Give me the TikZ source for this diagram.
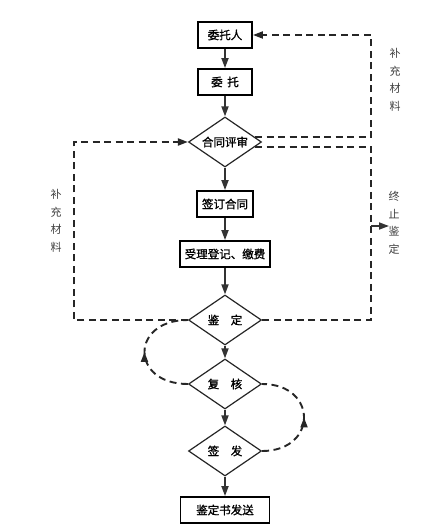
\documentclass[tikz,border=0pt]{standalone}
\usepackage{fontspec}
\setmainfont{Noto Sans CJK SC}
\newfontfamily\bcjk[FakeBold=1.2]{Noto Sans CJK SC}
\usetikzlibrary{shapes.geometric,arrows.meta,decorations.markings}
\begin{document}
\begin{tikzpicture}[x=1pt,y=-1pt,
  box/.style={draw=black, line width=1.8pt, fill=white, minimum height=26pt, inner sep=0pt, font=\bcjk\fontsize{11.5}{12}\selectfont},
  dia/.style={diamond, draw=black!85, line width=1.2pt, fill=white, minimum width=73pt, minimum height=50pt, inner sep=0pt, aspect=1.46, font=\bcjk\fontsize{11.5}{12}\selectfont},
  flow/.style={draw=black!80, line width=1.7pt, -{Triangle[length=10pt,width=7pt]}},
  dline/.style={draw=black!85, line width=1.9pt, dash pattern=on 7pt off 4.5pt},
  dtip/.style={-{Triangle[length=10pt,width=7pt]}},
  midarr/.style={postaction={decorate}, decoration={markings, mark=at position 0.5 with {\arrow{Triangle[length=10pt,width=7pt]}}}},
  vlab/.style={align=center, font=\fontsize{11}{17.5}\selectfont, text=black!75, inner sep=0pt}
]
\useasboundingbox (0,0) rectangle (430,529);

\node[box, minimum width=54pt] (wtr) at (225,35) {委托人};
\node[box, minimum width=54pt] (wt) at (225,82) {委\hspace{0.4em}托};
\node[dia] (hs) at (225,142) {合同评审};
\node[box, minimum width=56pt] (qd) at (225,204) {签订合同};
\node[box, minimum width=90pt] (sl) at (225,254) {受理登记、缴费};
\node[dia] (jd) at (225,320) {鉴\hspace{1em}定};
\node[dia] (fh) at (225,384) {复\hspace{1em}核};
\node[dia] (qf) at (225,451) {签\hspace{1em}发};
\node[box, minimum width=89pt] (fs) at (225,510) {鉴定书发送};

\draw[flow] (wtr) -- (wt);
\draw[flow] (wt) -- (hs);
\draw[flow] (hs) -- (qd);
\draw[flow] (qd) -- (sl);
\draw[flow] (sl) -- (jd);
\draw[flow] (jd) -- (fh);
\draw[flow] (fh) -- (qf);
\draw[flow] (qf) -- (fs);

\coordinate (rt) at (371,35);
\coordinate (rb) at (371,320);
\coordinate (lt) at (74,142);
\coordinate (st) at (371,226);
\coordinate (se) at (389,226);

\draw[dline,dtip] (hs.9) -| (rt) -- (wtr.east);
\draw[dline] (hs.-9) -| (rb) -- (jd.east);
\draw[flow] (st) -- (se);
\draw[dline,dtip] (jd.west) -| (lt) -- (hs.west);

\draw[dline,midarr] (fh.west) .. controls (130,384) and (130,320) .. (jd.west);
\draw[dline,midarr] (qf.east) .. controls (318,451) and (318,384) .. (fh.east);

\node[vlab] (lab1) at (395,80) {补\\充\\材\\料};
\node[vlab] (lab2) at (56,221) {补\\充\\材\\料};
\node[vlab] (lab3) at (394,223) {终\\止\\鉴\\定};
\end{tikzpicture}
\end{document}
